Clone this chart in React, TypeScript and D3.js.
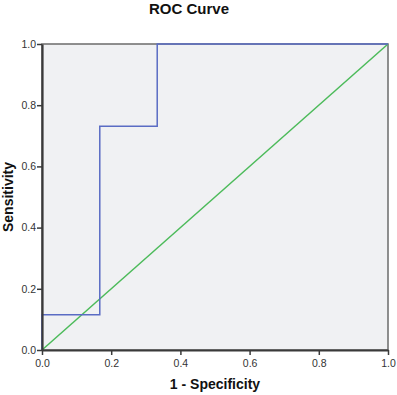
import React, { useRef, useEffect } from 'react';
import * as d3 from 'd3';

// ROC curve points (1 - specificity, sensitivity)
const fpr = [0, 0, 0.167, 0.167, 0.333, 0.333, 1.0];
const tpr = [0, 0.115, 0.115, 0.731, 0.731, 1.0, 1.0];
// reference diagonal
const refLine = [0, 1];
const tickValues = [0, 0.2, 0.4, 0.6, 0.8, 1.0];

const width = 397;
const height = 395;
const margin = { top: 44, right: 9, bottom: 45, left: 42 };

const App = () => {
  const ref = useRef<SVGSVGElement>(null);

  useEffect(() => {
    const svg = d3.select(ref.current);
    svg.selectAll('*').remove();

    const x = d3.scaleLinear().domain([0, 1]).range([margin.left, width - margin.right]);
    const y = d3.scaleLinear().domain([0, 1]).range([height - margin.bottom, margin.top]);

    // plot background + frame
    svg.append('rect')
      .attr('x', x(0)).attr('y', y(1))
      .attr('width', x(1) - x(0)).attr('height', y(0) - y(1))
      .attr('fill', '#f0f1f3')
      .attr('stroke', '#6b6b6b')
      .attr('stroke-width', 1.5);

    const line = d3.line<[number, number]>()
      .x(d => x(d[0]))
      .y(d => y(d[1]));

    // diagonal reference line
    svg.append('path')
      .datum(refLine.map(v => [v, v] as [number, number]))
      .attr('d', line)
      .attr('fill', 'none')
      .attr('stroke', '#4cbb5a')
      .attr('stroke-width', 1.5);

    // ROC curve
    svg.append('path')
      .datum(fpr.map((v, i) => [v, tpr[i]] as [number, number]))
      .attr('d', line)
      .attr('fill', 'none')
      .attr('stroke', '#5a6cc4')
      .attr('stroke-width', 1.5);

    const fmt = d3.format('.1f');

    const xAxis = svg.append('g')
      .attr('transform', `translate(0, ${y(0)})`)
      .call(d3.axisBottom(x).tickValues(tickValues).tickFormat(d => fmt(d as number)).tickSize(5).tickSizeOuter(0));
    const yAxis = svg.append('g')
      .attr('transform', `translate(${x(0)}, 0)`)
      .call(d3.axisLeft(y).tickValues(tickValues).tickFormat(d => fmt(d as number)).tickSize(5).tickSizeOuter(0));

    [xAxis, yAxis].forEach(g => {
      g.select('.domain').attr('stroke', '#3a3a3a').attr('stroke-width', 2.2);
      g.selectAll('.tick line').attr('stroke', '#3a3a3a').attr('stroke-width', 1.5);
      g.selectAll('.tick text')
        .attr('fill', '#333')
        .style('font-family', 'Arial, "Liberation Sans", sans-serif')
        .style('font-size', '10.5px');
    });
    xAxis.selectAll('.tick text').attr('dy', '0.9em');
    yAxis.selectAll('.tick text').attr('x', -6);

    const bold = (t: d3.Selection<SVGTextElement, unknown, null, undefined>, size: number) =>
      t.attr('text-anchor', 'middle')
        .style('font-family', 'Arial, "Liberation Sans", sans-serif')
        .style('font-size', `${size}px`)
        .style('font-weight', 'bold')
        .attr('fill', '#111');

    // title
    bold(svg.append('text').attr('x', 189).attr('y', 14), 15).text('ROC Curve');

    // axis titles
    bold(svg.append('text').attr('x', 215).attr('y', 389), 14).text('1 - Specificity');
    bold(svg.append('text')
      .attr('transform', `translate(13, ${(y(0) + y(1)) / 2}) rotate(-90)`), 14).text('Sensitivity');
  }, []);

  return (
    <svg ref={ref} width={width} height={height}
      style={{ position: 'absolute', left: 0, top: 0, background: '#fff' }} />
  );
};

export default App;
